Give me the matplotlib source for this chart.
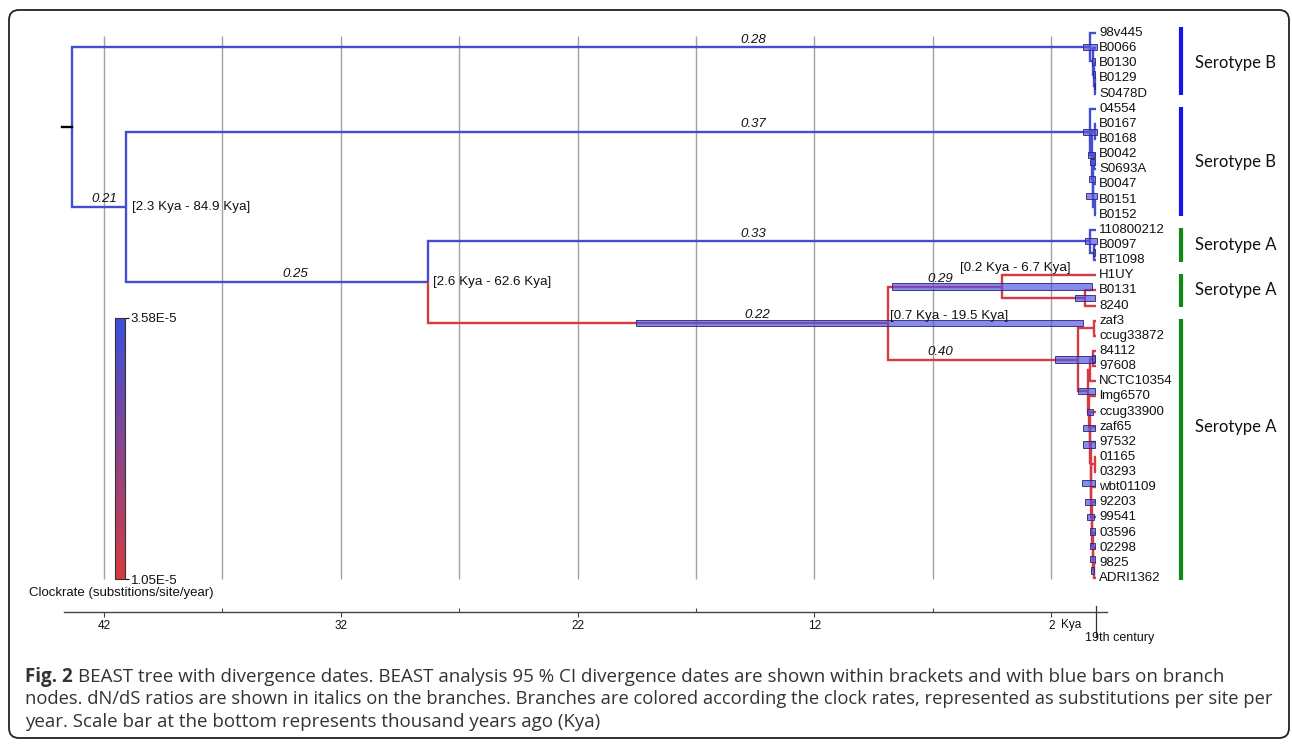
import numpy as np
import matplotlib
matplotlib.use("Agg")
import matplotlib.pyplot as plt
from matplotlib.colors import LinearSegmentedColormap, Normalize
from matplotlib.cm import ScalarMappable
from matplotlib.patches import FancyBboxPatch
from matplotlib.transforms import IdentityTransform

# ---------------- data ----------------
tip_names = ["98v445", "B0066", "B0130", "B0129", "S0478D",
             "04554", "B0167", "B0168", "B0042", "S0693A", "B0047", "B0151", "B0152",
             "110800212", "B0097", "BT1098",
             "H1UY", "B0131", "8240",
             "zaf3", "ccug33872", "84112", "97608", "NCTC10354", "lmg6570", "ccug33900",
             "zaf65", "97532", "01165", "03293", "wbt01109", "92203", "99541", "03596",
             "02298", "9825", "ADRI1362"]
tip_age = 0.1  # Kya

node_names = ["root", "B1", "B1a", "B1b", "B1c", "X", "B2", "B2a", "B2b", "B2c", "B2d", "B2e", "B2f",
              "Y", "A1", "A1a", "Z", "W", "W2", "V", "V1", "BC", "C1", "N841",
              "L1", "L2", "L3", "L4", "L5", "P0103", "L6", "L7", "L8", "L9", "L10", "L11"]
node_children = [
    ["B1", "X"], ["98v445", "B1a"], ["B0066", "B1b"], ["B0130", "B1c"], ["B0129", "S0478D"],
    ["B2", "Y"], ["04554", "B2a"], ["B2b", "B2c"], ["B0167", "B0168"], ["B2d", "B2e"],
    ["B0042", "S0693A"], ["B0047", "B2f"], ["B0151", "B0152"],
    ["A1", "Z"], ["110800212", "A1a"], ["B0097", "BT1098"],
    ["W", "V"], ["H1UY", "W2"], ["B0131", "8240"], ["V1", "BC"], ["zaf3", "ccug33872"],
    ["C1", "L1"], ["N841", "NCTC10354"], ["84112", "97608"],
    ["lmg6570", "L2"], ["ccug33900", "L3"], ["zaf65", "L4"], ["97532", "L5"], ["P0103", "L6"],
    ["01165", "03293"], ["wbt01109", "L7"], ["92203", "L8"], ["99541", "L9"], ["03596", "L10"],
    ["02298", "L11"], ["9825", "ADRI1362"]]
node_ages = [43.35, 0.36, 0.23, 0.20, 0.17, 41.07, 0.36, 0.28, 0.15, 0.25, 0.20, 0.22, 0.15,
             28.32, 0.36, 0.20, 8.89, 4.08, 0.57, 0.87, 0.20, 0.44, 0.36, 0.23,
             0.40, 0.38, 0.36, 0.34, 0.32, 0.17, 0.30, 0.28, 0.26, 0.24, 0.22, 0.20]
HI, LO = 3.45e-5, 1.12e-5
node_rates = [np.nan, HI, HI, HI, HI, HI, HI, HI, HI, HI, HI, HI, HI,
              HI, HI, HI, LO, LO, LO, LO, LO, LO, LO, LO,
              LO, LO, LO, LO, LO, LO, LO, LO, LO, LO, LO, LO]
nan = np.nan
ci_low = [nan, 0.06, 0.15, 0.17, 0.15, nan, 0.06, 0.15, nan, 0.15, 0.15, 0.06, nan,
          nan, 0.06, 0.15, 0.66, 0.27, 0.15, 0.15, nan, 0.15, nan, 0.15,
          0.23, 0.15, 0.15, nan, 0.15, nan, 0.15, 0.19, 0.15, 0.15, 0.15, 0.19]
ci_high = [nan, 0.66, 0.27, 0.23, 0.20, nan, 0.66, 0.44, nan, 0.40, 0.38, 0.53, nan,
           nan, 0.57, 0.23, 19.53, 8.72, 1.00, 1.84, nan, 0.87, nan, 0.27,
           0.49, 0.66, 0.66, nan, 0.70, nan, 0.57, 0.49, 0.36, 0.36, 0.36, 0.31]

dnds_nodes = ["B1", "B2", "X", "Y", "A1", "Z", "W", "V"]
dnds_values = ["0.28", "0.37", "0.21", "0.25", "0.33", "0.22", "0.29", "0.40"]
dnds_label_x = [14.59, 14.59, 42.0, 33.93, 14.59, 14.42, 6.70, 6.70]

ci_label_nodes = ["X", "Y", "Z", "W"]
ci_label_text = ["[2.3 Kya - 84.9 Kya]", "[2.6 Kya - 62.6 Kya]",
                 "[0.7 Kya - 19.5 Kya]", "[0.2 Kya - 6.7 Kya]"]

sero_labels = ["Serotype B", "Serotype B", "Serotype A", "Serotype A", "Serotype A"]
sero_first = [0, 5, 13, 16, 19]
sero_last = [4, 12, 15, 18, 36]
sero_label_row = [2, 8.5, 14, 17, 26]
sero_colors = ["#1414f0", "#1414f0", "#128a12", "#128a12", "#128a12"]

rate_min, rate_max = 1.05e-5, 3.58e-5
scale_major = [42, 32, 22, 12, 2]
scale_minor = [37, 27, 17, 7]
grid_kya = [42, 37, 32, 27, 22, 17, 12, 7, 2]

caption_lines = [
    "BEAST tree with divergence dates. BEAST analysis 95 % CI divergence dates are shown within brackets and with blue bars on branch",
    "nodes. dN/dS ratios are shown in italics on the branches. Branches are colored according the clock rates, represented as substitutions per site per",
    "year. Scale bar at the bottom represents thousand years ago (Kya)"]

# ---------------- geometry helpers ----------------
W, H, DPI = 1292, 747, 100
def kx(px):  # pixel x -> Kya
    return 42 - (px - 104) / 23.68
def ry(py):  # pixel y -> row index
    return (py - 33) / 15.14

cmap = LinearSegmentedColormap.from_list("clock", ["#d83a3e", "#3b4fdc"])
norm = Normalize(rate_min, rate_max)

idx = {n: i for i, n in enumerate(node_names)}
tip_row = {n: i for i, n in enumerate(tip_names)}
parent = {}
for n, ch in zip(node_names, node_children):
    for c in ch:
        parent[c] = n

ycache = {}
def ypos(n):
    if n in tip_row:
        return tip_row[n]
    if n not in ycache:
        ch = node_children[idx[n]]
        ycache[n] = (ypos(ch[0]) + ypos(ch[-1])) / 2
    return ycache[n]

def age(n):
    return tip_age if n in tip_row else node_ages[idx[n]]

def rate(n):
    if n in tip_row:
        return node_rates[idx[parent[n]]]
    return node_rates[idx[n]]

plt.rcParams["font.family"] = ["Liberation Sans", "DejaVu Sans"]
fig = plt.figure(figsize=(W / DPI, H / DPI), dpi=DPI)
ax = fig.add_axes([0, 0, 1, 1])
ax.set_xlim(kx(0), kx(W))
ax.set_ylim(ry(H), ry(0))
ax.axis("off")

# grid lines
ax.vlines(grid_kya, 0.2, len(tip_names) - 1 + 0.05, color="#a3a3a3", lw=1.0, zorder=1)

# branches
for n, ch in zip(node_names, node_children):
    xa, ya = age(n), ypos(n)
    for c in ch:
        col = cmap(norm(rate(c)))
        ax.plot([xa, xa, age(c)], [ya, ypos(c), ypos(c)], color=col, lw=1.7,
                solid_joinstyle="miter", solid_capstyle="butt", zorder=2)
root_y = ypos("root")
ax.plot([node_ages[0] + 0.42, node_ages[0]], [root_y, root_y], color="black", lw=1.7, zorder=2)

# CI bars
ys, lefts, widths = [], [], []
for n, lo, hi in zip(node_names, ci_low, ci_high):
    if np.isfinite(lo):
        ys.append(ypos(n)); lefts.append(lo); widths.append(hi - lo)
ax.barh(ys, widths, left=lefts, height=0.42, color=(0.32, 0.32, 0.90, 0.68),
        edgecolor=(0.17, 0.17, 0.45, 0.9), lw=0.7, zorder=3)

# tip labels
for n in tip_names:
    ax.annotate(n, (tip_age, tip_row[n]), xytext=(2.2, 0), textcoords="offset points",
                ha="left", va="center", fontsize=9.5, color="#111")

# dN/dS labels
for n, v, lx in zip(dnds_nodes, dnds_values, dnds_label_x):
    ax.annotate(v, (lx, ypos(n)), xytext=(0, 1.2), textcoords="offset points",
                ha="center", va="bottom", fontsize=9.5, style="italic", color="#111")

# CI labels
ci_offsets = [(4.3, 0), (3.6, 0), (1.4, 5.3), (-30, 13.5)]
for n, t, off in zip(ci_label_nodes, ci_label_text, ci_offsets):
    ax.annotate(t, (age(n), ypos(n)), xytext=off, textcoords="offset points",
                ha="left", va="center", fontsize=9.6, color="#111")

# serotype bars
for lab, f, l, r, c in zip(sero_labels, sero_first, sero_last, sero_label_row, sero_colors):
    pad_top = 0.42 if f == 0 else 0.1
    ax.plot([kx(1181), kx(1181)], [f - pad_top, l + 0.1], color=c, lw=3.0,
            solid_capstyle="butt", zorder=2)
    ax.text(kx(1195), r, lab, ha="left", va="center", fontsize=12,
            family=["Lato", "DejaVu Sans"], color="#111")

# colour bar
cax = fig.add_axes([115 / W, 1 - 579 / H, 10 / W, 261 / H])
cb = fig.colorbar(ScalarMappable(norm=norm, cmap=cmap), cax=cax, ticks=[rate_min, rate_max])
cb.set_ticklabels(["1.05E-5", "3.58E-5"])
cb.outline.set_linewidth(0.8)
cb.outline.set_edgecolor("#333")
cax.tick_params(length=3, width=0.8, labelsize=9.5, pad=1, colors="#111")
fig.text(121.5 / W, 1 - 593 / H, "Clockrate (substitions/site/year)", ha="center", va="center",
         fontsize=9.5, color="#111")

# time scale
sax = fig.add_axes([0, 1 - 612 / H, 1, 0.01])
sax.set_xlim(kx(0), kx(W))
sax.patch.set_visible(False)
for s in ["top", "left", "right"]:
    sax.spines[s].set_visible(False)
sax.spines["bottom"].set_bounds(kx(1107), kx(64))
sax.spines["bottom"].set_color("#444")
sax.spines["bottom"].set_linewidth(1.0)
sax.set_yticks([])
sax.set_xticks(scale_major)
sax.set_xticklabels([str(v) for v in scale_major])
sax.set_xticks(scale_minor, minor=True)
sax.tick_params(axis="x", which="major", direction="out", length=3.5, width=0.8,
                colors="#444", labelsize=8.5, labelcolor="#111", pad=2.5)
sax.tick_params(axis="x", which="minor", direction="in", length=3, width=0.8, colors="#444")
ax.text(kx(1061), ry(625), "Kya", ha="left", va="center", fontsize=8.5, color="#111")
ax.plot([kx(1096), kx(1096)], [ry(606), ry(637)], color="#333", lw=0.9)
ax.text(kx(1120), ry(638), "19th century", ha="center", va="center", fontsize=9, color="#111")

# border
fig.add_artist(FancyBboxPatch((9, H - 738), 1280, 728, boxstyle="round,pad=0,rounding_size=10",
                              transform=IdentityTransform(), fill=False, ec="#222", lw=1.3))

# caption
cap_font = ["Open Sans", "DejaVu Sans"]
r = fig.canvas.get_renderer()
t0 = fig.text(25 / W, 1 - 682 / H, "Fig. 2", ha="left", va="baseline", fontsize=13.5,
              weight="bold", family=cap_font, color="#333")
bb = t0.get_window_extent(renderer=r)
cap_x = [(bb.x1 + 5), 25, 25]
cap_y = [682, 704.5, 727]
cap_right = [1232, 1276, 1292]
for line, x0, y0, xr in zip(caption_lines, cap_x, cap_y, cap_right):
    t = fig.text(x0 / W, 1 - y0 / H, line, ha="left", va="baseline", fontsize=13.5,
                 family=cap_font, color="#333")
    wdt = t.get_window_extent(renderer=r).width
    if x0 + wdt > xr:
        t.set_fontsize(13.5 * (xr - x0) / wdt)

fig.savefig("out.png", dpi=DPI)
